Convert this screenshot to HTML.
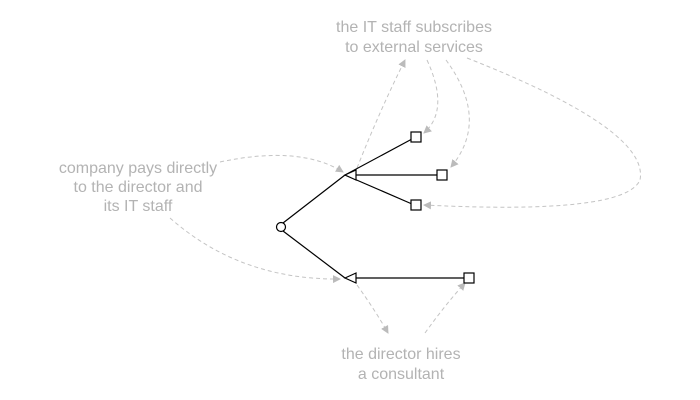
<!DOCTYPE html>
<html><head><style>body{margin:0;background:#fff}svg{display:block}text{font-family:"Liberation Sans",Helvetica,sans-serif;font-size:16px;fill:#b3b3b3;text-anchor:middle}</style></head><body>
<svg width="700" height="400" viewBox="0 0 700 400">
<defs><marker id="a" markerWidth="8" markerHeight="8" refX="7" refY="4" orient="auto" markerUnits="userSpaceOnUse"><path d="M0,0 L8,4 L0,8 z" fill="#bbb"/></marker></defs>
<g fill="none" stroke="#c4c4c4" stroke-dasharray="4,3" stroke-width="1">
<path d="M357,168 Q380,110 405,60" marker-end="url(#a)"/>
<path d="M427,60 Q450,110 424,133" marker-end="url(#a)"/>
<path d="M446,60 Q490,120 451,167" marker-end="url(#a)"/>
<path d="M467,58 Q650,130 640,180 Q625,215 424,205" marker-end="url(#a)"/>
<path d="M220,162 Q300,145 343,172" marker-end="url(#a)"/>
<path d="M170,218 Q240,280 340,279" marker-end="url(#a)"/>
<path d="M357,285 Q375,310 388,333" marker-end="url(#a)"/>
<path d="M425,333 Q445,305 465,283" marker-end="url(#a)"/>
</g>
<g stroke="#000" stroke-width="1.2" fill="none">
<line x1="283" y1="223" x2="345" y2="175"/>
<line x1="283" y1="231" x2="345" y2="278"/>
<line x1="345" y1="175" x2="412" y2="139"/>
<line x1="356" y1="175" x2="437" y2="175"/>
<line x1="345" y1="175" x2="412" y2="204"/>
<line x1="356" y1="278" x2="464" y2="278"/>
<circle cx="281" cy="227" r="4.5" fill="#fff"/>
<path d="M345,175 L356,170 L356,180 z" fill="#fff"/>
<path d="M345,278 L356,273 L356,283 z" fill="#fff"/>
<rect x="411" y="132" width="10" height="10" fill="#fff"/>
<rect x="437" y="170" width="10" height="10" fill="#fff"/>
<rect x="411" y="200" width="10" height="10" fill="#fff"/>
<rect x="464" y="273" width="10" height="10" fill="#fff"/>
</g>
<text x="414" y="32">the IT staff subscribes</text>
<text x="414" y="52">to external services</text>
<text x="138" y="173">company pays directly</text>
<text x="138" y="192">to the director and</text>
<text x="138" y="211">its IT staff</text>
<text x="401" y="359">the director hires</text>
<text x="401" y="379">a consultant</text>
</svg>
</body></html>
